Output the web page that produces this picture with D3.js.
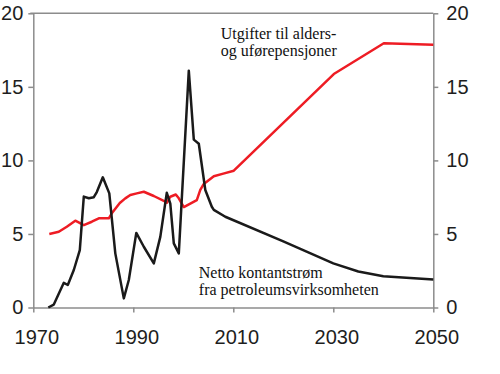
<!DOCTYPE html>
<html>
<head>
<meta charset="utf-8">
<script src="https://cdn.jsdelivr.net/npm/d3@7"></script>
<style>
  body { margin: 0; background: #fff; }
  .axis text { font-family: Arial, "Liberation Sans", sans-serif; font-size: 20px; fill: #1e1e1e; }
  .axis path, .axis line { stroke: #8c8c8c; stroke-width: 1.5; }
  .note { font-family: "Times New Roman", "Liberation Serif", serif; font-size: 16px; fill: #111; }
</style>
</head>
<body>
<script>
// Netto kontantstrøm fra petroleumsvirksomheten (black)
const nettoYears = [1973, 1974.1, 1976.1, 1976.9, 1978.1, 1979.3, 1980.1, 1981.1, 1982.1, 1982.7,
  1983.9, 1985.2, 1986.4, 1988.1, 1989.1, 1990.6, 1992.1, 1994.1, 1995.4, 1996.7,
  1997.4, 1998.1, 1999.1, 2001.1, 2002.1, 2003.1, 2004.4, 2005.7, 2006.1, 2008.4,
  2020, 2030, 2035, 2040, 2050]
const nettoValues = [0, 0.2, 1.68, 1.53, 2.55, 3.9, 7.54, 7.43, 7.5, 7.85,
  8.85, 7.76, 3.68, 0.62, 1.87, 5.07, 4.13, 3.0, 4.8, 7.8,
  7.06, 4.36, 3.68, 16.1, 11.41, 11.13, 7.99, 6.85, 6.64, 6.17,
  4.5, 3.0, 2.45, 2.13, 1.9]

// Utgifter til alders- og uførepensjoner (red)
const utgYears = [1973.2, 1975.1, 1976.7, 1978.4, 1980.1, 1981.7, 1983.1, 1985.1, 1985.7, 1987.3,
  1988.4, 1989.4, 1990.7, 1992.1, 1994.1, 1996.4, 1996.7, 1997.4, 1998.5, 1999.1,
  2000.1, 2002.7, 2003.4, 2004.1, 2006.1, 2008, 2010.1, 2030.1, 2040.1, 2050]
const utgValues = [5.0, 5.15, 5.49, 5.9, 5.6, 5.83, 6.06, 6.06, 6.4, 7.1,
  7.42, 7.65, 7.76, 7.87, 7.58, 7.19, 7.12, 7.53, 7.68, 7.42,
  6.83, 7.3, 7.99, 8.4, 8.92, 9.1, 9.3, 15.87, 17.96, 17.87]

const xTicks = [1970, 1990, 2010, 2030, 2050]
const yTicks = [0, 5, 10, 15, 20]

const w = 500
const h = 374

const svg = d3.select('body')
              .append('svg')
              .attr('width', w)
              .attr('height', h)

const xScale = d3.scaleLinear()
                 .domain([1970, 2050])
                 .range([33.3, 433.3])

const yScale = d3.scaleLinear()
                 .domain([0, 20])
                 .range([307.5, 13.3])

// top frame line
svg.append('line')
   .attr('x1', xScale(1970) - 3)
   .attr('x2', xScale(2050))
   .attr('y1', yScale(20))
   .attr('y2', yScale(20))
   .attr('stroke', '#8c8c8c')
   .attr('stroke-width', 1.5)

svg.append('g')
   .attr('class', 'axis')
   .attr('transform', 'translate(0,' + yScale(0) + ')')
   .call(d3.axisBottom(xScale).tickValues(xTicks).tickFormat(d3.format('d')).tickSize(5).tickSizeOuter(0).tickPadding(17.5))
   .selectAll('text')
   .attr('dx', 3)

svg.append('g')
   .attr('class', 'axis')
   .attr('transform', 'translate(' + xScale(1970) + ',0)')
   .call(d3.axisLeft(yScale).tickValues(yTicks).tickSize(5).tickSizeOuter(0).tickPadding(5))

svg.append('g')
   .attr('class', 'axis')
   .attr('transform', 'translate(' + xScale(2050) + ',0)')
   .call(d3.axisRight(yScale).tickValues(yTicks).tickSize(5).tickSizeOuter(0).tickPadding(8))

const line = d3.line()
               .x(d => xScale(d[0]))
               .y(d => yScale(d[1]))

svg.append('path')
   .datum(utgYears.map((y, i) => [y, utgValues[i]]))
   .attr('d', line)
   .attr('fill', 'none')
   .attr('stroke', '#ee1c24')
   .attr('stroke-width', 2.5)
   .attr('stroke-linejoin', 'round')

svg.append('path')
   .datum(nettoYears.map((y, i) => [y, nettoValues[i]]))
   .attr('d', line)
   .attr('fill', 'none')
   .attr('stroke', '#1a1a1a')
   .attr('stroke-width', 2.5)
   .attr('stroke-linejoin', 'round')

const note1 = svg.append('text')
   .attr('class', 'note')
   .attr('x', xScale(2007.5))
   .attr('y', yScale(18.25))
note1.append('tspan').text('Utgifter til alders-')
note1.append('tspan').attr('x', xScale(2007.5)).attr('dy', 16.5).text('og uførepensjoner')

const note2 = svg.append('text')
   .attr('class', 'note')
   .attr('x', xScale(2003.1))
   .attr('y', yScale(1.99))
note2.append('tspan').text('Netto kontantstrøm')
note2.append('tspan').attr('x', xScale(2003.1)).attr('dy', 17).text('fra petroleumsvirksomheten')
</script>
</body>
</html>
